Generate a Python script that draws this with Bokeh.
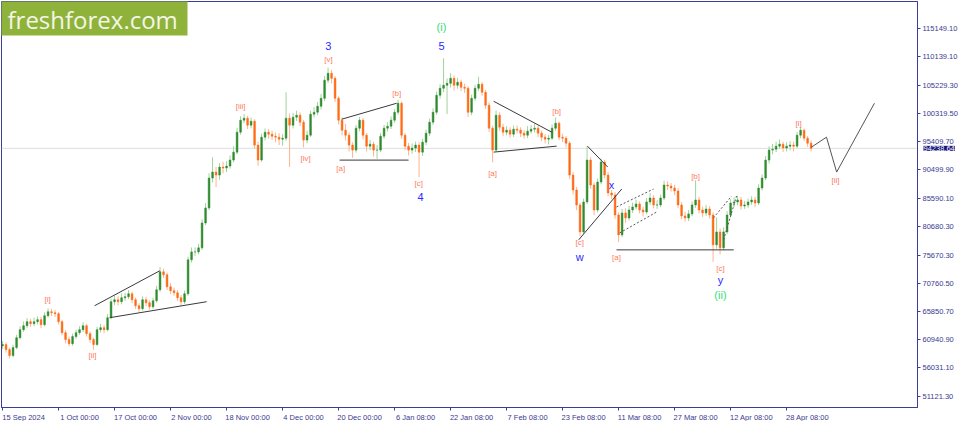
from bokeh.plotting import figure
from bokeh.models import (Range1d, FixedTicker, NumeralTickFormatter, Span, Label,
                          BoxAnnotation, ColumnDataSource)
from bokeh.core.properties import value
from bokeh.embed import file_html
from bokeh.resources import INLINE

# ---------------- data (BTCUSD, one candle per bar index) ----------------
first_open = 59900
closes = [
    60100, 59230, 58190, 59580, 61310, 62700, 63390, 64090, 63740, 64090,
    64440, 63570, 65130, 65820, 65650, 65480, 64090, 62180, 60970, 60270,
    61490, 62180, 62700, 63390, 62010, 60970, 60100, 62700, 63050, 62700,
    64780, 67560, 67900, 67560, 68250, 68430, 68950, 67900, 66860, 66340,
    67900, 67380, 66690, 67730, 69640, 72760, 72240, 70160, 69470, 69120,
    68250, 67560, 68950, 74850, 76230, 76230, 76930, 81260, 83870, 89070,
    90110, 89590, 90980, 90810, 91150, 92200, 93580, 97050, 99140, 99480,
    98270, 98960, 94800, 92200, 96190, 97050, 96710, 96360, 96190, 95840,
    96010, 99480, 98270, 99660, 100000, 98790, 95670, 96530, 100180, 100520,
    101560, 102950, 106080, 107290, 106420, 102950, 99140, 97400, 96530, 94800,
    93930, 97750, 99140, 96530, 94620, 94970, 93930, 93930, 96360, 97750,
    98090, 99140, 100520, 102080, 96530, 94620, 93930, 94280, 94800, 93580,
    95320, 96880, 98790, 100520, 103470, 104690, 105210, 105550, 106420, 105210,
    105730, 104860, 104690, 100520, 102950, 104690, 105380, 103990, 101740, 97750,
    93930, 100000, 97920, 97050, 97400, 96710, 97570, 97400, 96880, 96530,
    97230, 97570, 97750, 96880, 96190, 95840, 96010, 97750, 98610, 96190,
    96010, 95140, 89590, 86990, 84390, 79700, 84910, 92200, 87860, 83520,
    88380, 91850, 89590, 86470, 86120, 82650, 79180, 83000, 82130, 83520,
    84040, 84560, 83520, 83170, 84910, 85600, 84390, 84390, 85600, 87860,
    87680, 87340, 86820, 84390, 82480, 82130, 82830, 84390, 85260, 83520,
    83000, 83690, 82650, 77450, 79700, 76930, 79700, 82650, 84730, 84910,
    85260, 84210, 84390, 84910, 85260, 84730, 87340, 89070, 92200, 93930,
    94100, 94620, 94970, 94280, 94620, 94800, 94620, 96530, 97400, 96010,
    95140, 94238.64,
]
highs = [
    60700, 60500, 59600, 60100, 61800, 63300, 64100, 64700, 64600, 64800,
    65000, 64900, 65700, 66400, 66300, 66100, 65800, 64400, 62600, 61500,
    62000, 62700, 63300, 64000, 63700, 62400, 61300, 63200, 63700, 63500,
    65400, 68100, 68600, 68500, 69000, 69100, 69600, 69300, 68300, 67300,
    68500, 68400, 67800, 68300, 70300, 73600, 73300, 72600, 70800, 70000,
    69600, 68700, 69500, 75400, 77000, 77000, 77600, 81900, 84700, 89900,
    92700, 91000, 91700, 91900, 92000, 93000, 94600, 97800, 99800, 100200,
    99900, 99600, 99300, 95400, 96800, 97700, 97600, 97300, 97000, 96900,
    96700, 104000, 100300, 100400, 100800, 100500, 99200, 97300, 100800, 101400,
    102300, 103700, 106800, 108300, 107900, 106800, 103300, 99600, 98500, 97000,
    95300, 98300, 99700, 99500, 96900, 95700, 95400, 94800, 96900, 98300,
    98800, 99800, 101100, 102700, 102400, 96900, 95200, 95100, 95400, 95300,
    95900, 97500, 99400, 101200, 104100, 105400, 109900, 106400, 107300, 106900,
    106500, 106200, 105500, 105000, 103600, 105300, 106700, 105800, 104400, 102200,
    98200, 100800, 100500, 98500, 98100, 97900, 98200, 98200, 97900, 97400,
    98100, 98300, 98500, 98200, 97300, 96700, 96600, 98400, 99600, 98900,
    96800, 96400, 95500, 90100, 87500, 84800, 85500, 94600, 92700, 88300,
    89000, 92500, 92200, 90100, 87000, 86600, 83100, 83700, 83800, 84200,
    84800, 85300, 85000, 84100, 85600, 86500, 86100, 85200, 86200, 88600,
    88500, 88200, 87900, 87300, 84900, 83200, 83500, 85000, 88700, 85800,
    84100, 84400, 84200, 83100, 82200, 80300, 80500, 83300, 85400, 85700,
    86000, 85800, 85100, 85500, 85900, 85800, 88000, 89700, 92900, 94600,
    95000, 95400, 95800, 95400, 95300, 95500, 95400, 97100, 97900, 97700,
    96400, 95600,
]
lows = [
    59300, 58700, 57700, 57900, 59300, 61000, 62300, 63000, 63200, 63300,
    63600, 63000, 63300, 64800, 65100, 64900, 63600, 61700, 60300, 59800,
    59900, 61100, 61800, 62300, 61500, 60400, 59200, 59900, 62200, 62100,
    62400, 64500, 67000, 66900, 67100, 67700, 68000, 67300, 66300, 65800,
    66000, 66800, 66200, 66300, 67400, 69300, 71700, 69600, 68900, 68600,
    67700, 66900, 67200, 68600, 74400, 75500, 75800, 76600, 80900, 83500,
    88300, 87500, 88800, 89900, 90100, 90700, 91800, 93200, 96600, 98600,
    97600, 97700, 94200, 91200, 91900, 95600, 95900, 95700, 95300, 94800,
    94700, 95600, 91000, 97700, 99000, 98100, 94400, 95100, 96200, 99600,
    100000, 101000, 102500, 105600, 105500, 102300, 98400, 96500, 95600, 93700,
    92600, 93500, 97200, 95800, 93700, 93900, 92800, 92400, 93600, 95900,
    97200, 97600, 98700, 100100, 95900, 93900, 93000, 93300, 93600, 89200,
    92900, 94800, 96400, 98300, 100100, 102900, 104000, 100200, 104800, 104300,
    104600, 104200, 103900, 99700, 100000, 102500, 104200, 103400, 101100, 97100,
    91800, 93600, 97300, 96400, 96500, 96100, 96200, 96800, 96200, 95900,
    96000, 96800, 97000, 96200, 95500, 95100, 94900, 95700, 97300, 95700,
    95300, 94400, 88900, 86200, 83500, 78900, 79300, 84500, 87200, 82600,
    83100, 88000, 89000, 85900, 85400, 82000, 77900, 78800, 81300, 81700,
    83000, 83600, 82900, 82400, 82800, 84400, 83800, 83700, 84000, 85200,
    87000, 86700, 86100, 83800, 81900, 81500, 81600, 82400, 83900, 82900,
    82300, 82500, 82000, 74500, 76800, 75800, 76500, 79300, 82200, 84000,
    84300, 83600, 83700, 83900, 84400, 84000, 84400, 86900, 88700, 91600,
    93200, 93600, 94100, 93600, 93700, 93900, 93700, 94300, 96000, 95500,
    94500, 93700,
]
current_price = 94238.64

date_ticks = [0, 16, 32, 48, 64, 80, 96, 112, 128, 144, 160, 176, 192, 208, 224]
date_labels = ["15 Sep 2024", "1 Oct 00:00", "17 Oct 00:00", "2 Nov 00:00",
               "18 Nov 00:00", "4 Dec 00:00", "20 Dec 00:00", "6 Jan 08:00",
               "22 Jan 08:00", "7 Feb 08:00", "23 Feb 08:00", "11 Mar 08:00",
               "27 Mar 08:00", "12 Apr 08:00", "28 Apr 08:00"]
price_ticks = [51121.30, 56031.10, 60940.90, 65850.70, 70760.50, 75670.30,
               80680.30, 85590.10, 90499.90, 95409.70, 100319.50, 105229.30,
               110139.10, 115149.10]

# Elliott wave labels
bracket_text = ["[i]", "[ii]", "[iii]", "[iv]", "[v]", "[a]", "[b]", "[c]",
                "[a]", "[b]", "[c]", "[a]", "[b]", "[c]", "[i]", "[ii]"]
bracket_x = [12.9, 25.7, 68.0, 86.6, 93.1, 96.6, 112.6, 118.9,
             140.0, 158.3, 164.9, 175.4, 198.0, 205.1, 227.4, 238.0]
bracket_y = [67905, 58189, 101564, 92542, 109719, 90807, 103820, 88205,
             89939, 100697, 77795, 75192, 89419, 73283, 98614, 88725]
minor_text = ["3", "5", "4", "w", "x", "y"]
minor_x = [93.1, 125.4, 119.4, 164.9, 174.0, 205.1]
minor_y = [111974, 111974, 85776, 75365, 87858, 71375]
inter_text = ["(i)", "(ii)"]
inter_x = [125.4, 205.1]
inter_y = [115270, 68772]

# trend lines
trend_x0 = [26.3, 30.6, 96.9, 96.3, 140.3, 140.3, 167.1, 164.6, 175.4]
trend_y0 = [66864, 64782, 99308, 92195, 102432, 93583, 94624, 78315, 76580]
trend_x1 = [44.9, 58.3, 112.6, 116.0, 156.9, 158.3, 172.9, 176.9, 208.9]
trend_y1 = [72937, 67558, 102084, 92195, 97053, 94624, 90981, 87164, 76580]
dot_x0 = [175.4, 176.3, 203.1, 206.0]
dot_y0 = [84040, 79530, 82132, 78315]
dot_x1 = [186.0, 186.9, 208.3, 209.7]
dot_y1 = [87164, 83173, 85949, 85949]
proj_x = [231.0, 235.4, 238.3, 249.1]
proj_y = [94400, 96185, 90113, 102084]

# ---------------- figure ----------------
NAVY = "#3c3c9a"
FONT = "Liberation Sans"
FRAME_W, FRAME_H = 916, 406
X_END = 261.4

p = figure(frame_width=FRAME_W, frame_height=FRAME_H,
           x_range=Range1d(-0.3, X_END), y_range=Range1d(49160, 119782),
           y_axis_location="right", output_backend="svg", toolbar_location=None,
           min_border_left=1, min_border_top=1, min_border_right=0, min_border_bottom=0,
           background_fill_color="white", border_fill_color="white",
           outline_line_color=NAVY, outline_line_width=1)
p.grid.visible = False

for ax in (p.xaxis[0], p.yaxis[0]):
    ax.axis_line_color = NAVY
    ax.major_tick_line_color = NAVY
    ax.minor_tick_line_color = None
    ax.major_tick_in = 0
    ax.major_tick_out = 3
    ax.major_label_standoff = 2
    ax.major_label_text_color = "#3a3a8e"
    ax.major_label_text_font = FONT
    ax.major_label_text_font_size = "7.5px"

# date labels start at their tick (MetaTrader style): label centres sit half a
# label width to the right of the tick marks, which are drawn as minor ticks
label_shift = 6.0
label_pos = [t + label_shift for t in date_ticks]
p.xaxis.ticker = FixedTicker(ticks=label_pos, minor_ticks=date_ticks)
p.xaxis.major_label_overrides = dict(zip(label_pos, date_labels))
p.xaxis.major_tick_line_color = None
p.xaxis.minor_tick_line_color = NAVY
p.xaxis.minor_tick_in = 0
p.xaxis.minor_tick_out = 3
p.yaxis.ticker = FixedTicker(ticks=price_ticks)
p.yaxis.formatter = NumeralTickFormatter(format="0.00")

p.add_layout(Span(location=current_price, dimension="width",
                  line_color="#dedede", line_width=1, level="underlay"))

idx = list(range(len(closes)))
opens = [first_open] + closes[:-1]
up = [c >= o for o, c in zip(opens, closes)]


def subset(flag):
    sel = [i for i in idx if up[i] == flag]
    return ColumnDataSource(dict(
        x=sel,
        hi=[highs[i] for i in sel], lo=[lows[i] for i in sel],
        top=[max(opens[i], closes[i]) for i in sel],
        bot=[min(opens[i], closes[i]) for i in sel]))


for flag, wick, body in ((True, "#9fd49a", "#2e8b2e"), (False, "#ffb48c", "#ff6a14")):
    s = subset(flag)
    p.segment(x0="x", y0="lo", x1="x", y1="hi", source=s, line_color=wick, line_width=1)
    p.vbar(x="x", width=0.5, top="top", bottom="bot", source=s,
           fill_color=body, line_color=body, line_width=0.5)

p.segment(x0=trend_x0, y0=trend_y0, x1=trend_x1, y1=trend_y1,
          line_color="#3a3a3a", line_width=1)
p.segment(x0=dot_x0, y0=dot_y0, x1=dot_x1, y1=dot_y1,
          line_color="#555555", line_width=1, line_dash="2 2")
p.line(proj_x, proj_y, line_color="#555555", line_width=1)

p.text(x=bracket_x, y=bracket_y, text=bracket_text, text_color="#ff7a62",
       text_font=value(FONT), text_font_size="8px",
       text_align="center", text_baseline="middle")
p.text(x=minor_x, y=minor_y, text=minor_text, text_color="#2a2aff",
       text_font=value(FONT), text_font_size="11px",
       text_align="center", text_baseline="middle")
p.text(x=inter_x, y=inter_y, text=inter_text, text_color="#33dd77",
       text_font=value(FONT), text_font_size="11px",
       text_align="center", text_baseline="middle")

# current price tag on the price scale (placed in the right side panel so it is
# not clipped to the plot frame)
p.add_layout(Label(x=X_END, y=current_price, text="94238.64", x_offset=6,
                   text_align="left", text_baseline="middle",
                   text_font=FONT, text_font_size="7.5px", text_color="white",
                   background_fill_color="#10107a"), "right")

# logo
p.add_layout(BoxAnnotation(left=-1, right=186, top=FRAME_H + 1, bottom=FRAME_H - 34,
                           left_units="screen", right_units="screen",
                           top_units="screen", bottom_units="screen",
                           fill_color="#8fb33a", fill_alpha=1, line_color=None,
                           level="overlay"))
p.add_layout(Label(x=6, y=FRAME_H - 18, x_units="screen", y_units="screen",
                   text="freshforex.com", text_font="Open Sans",
                   text_font_size="24px", text_color="#f3f6e6",
                   text_baseline="alphabetic", level="overlay"))

open("out.html", "w").write(file_html(p, INLINE))
